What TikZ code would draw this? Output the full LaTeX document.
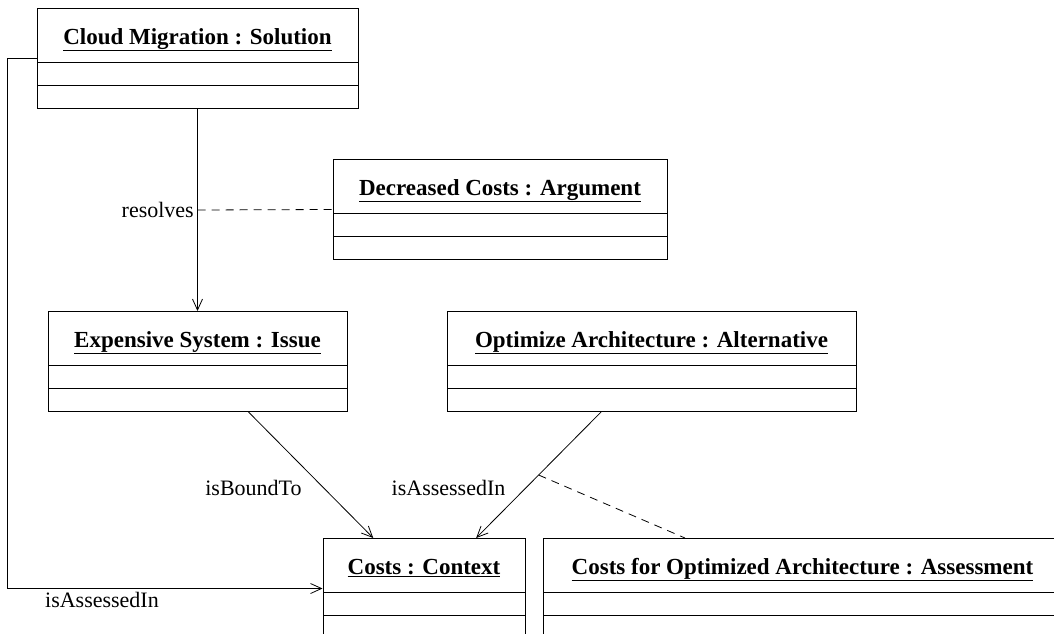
\documentclass[tikz,border=0pt]{standalone}
\usepackage{fontspec}
\setmainfont{Liberation Serif}
\usetikzlibrary{arrows.meta, positioning, shapes.multipart, calc}

\newcommand{\objtitle}[1]{\rule[-18pt]{0pt}{53pt}\underline{#1}}

\begin{document}
\begin{tikzpicture}[
  x=1pt, y=-1pt,
  obj/.style={draw, line width=1pt, rectangle split, rectangle split parts=3,
    rectangle split empty part height=22pt, rectangle split empty part depth=0pt,
    inner ysep=0pt, font=\fontsize{23}{28}\selectfont\bfseries},
  lbl/.style={font=\fontsize{22}{26}\selectfont},
  link/.style={line width=0.8pt},
  assoc/.style={line width=0.8pt, dash pattern=on 8pt off 6pt},
  >={Straight Barb[length=11pt, width=10pt]}
]
\useasboundingbox (0,0) rectangle (1054,633);
\clip (0,0) rectangle (1054,633);

% Objects
\node[obj, minimum width=321pt, anchor=north] (sol) at (197.5,8)
  {\objtitle{Cloud Migration : Solution}\nodepart{two}\nodepart{three}};      % solution
\node[obj, minimum width=334pt, anchor=north] (arg) at (500,159)
  {\objtitle{Decreased Costs : Argument}\nodepart{two}\nodepart{three}};      % argument
\node[obj, minimum width=299pt, anchor=north] (iss) at (197.5,311)
  {\objtitle{Expensive System : Issue}\nodepart{two}\nodepart{three}};        % issue
\node[obj, minimum width=409pt, anchor=north] (alt) at (651.5,311)
  {\objtitle{Optimize Architecture : Alternative}\nodepart{two}\nodepart{three}}; % alternative
\node[obj, minimum width=202pt, anchor=north] (ctx) at (424,538)
  {\objtitle{Costs : Context}\nodepart{two}\nodepart{three}};                 % context
\node[obj, minimum width=519pt, anchor=north] (asm) at (802.5,538)
  {\objtitle{Costs for Optimized Architecture : Assessment}\nodepart{two}\nodepart{three}}; % assessment

% Links
\draw[->, link] (sol.south) -- node[lbl, left] {resolves}
  coordinate[pos=0.5] (m1) (iss.north);                                      % solution resolves issue
\draw[assoc] (m1) -- (arg.west);                                             % argument for it

\draw[->, link] ($(iss.south west)!0.67!(iss.south east)$)
  -- node[lbl, pos=0.6, left, xshift=-18pt] {isBoundTo}
  ($(ctx.north west)!0.25!(ctx.north east)$);                                % issue to context

\draw[->, link] ($(alt.south west)!0.377!(alt.south east)$)
  -- node[lbl, pos=0.6, left, xshift=-17pt] {isAssessedIn}
  coordinate[pos=0.5] (m2) ($(ctx.north west)!0.757!(ctx.north east)$);     % alternative to context
\draw[assoc] (m2) -- ($(asm.north west)!0.274!(asm.north east)$);           % assessment for it

\draw[->, link] (sol.west) -- ++(-29,0) |- node[lbl, pos=0.65, below] {isAssessedIn}
  (ctx.west);                                                                % solution to context
\end{tikzpicture}
\end{document}
